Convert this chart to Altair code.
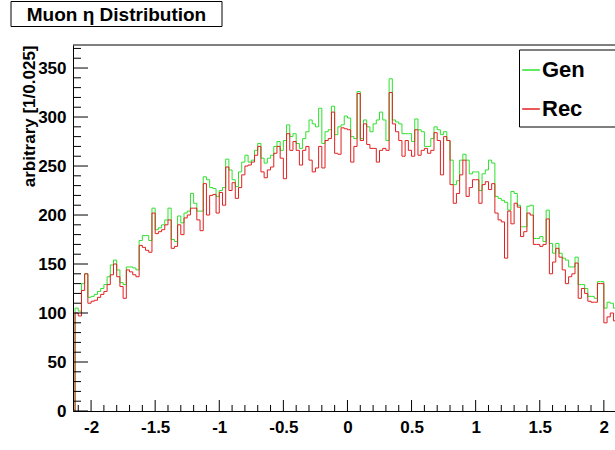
import altair as alt
import numpy as np
import pandas as pd

# ---------------- data ----------------
TITLE = "Muon η Distribution"
Y_TITLE = "arbitrary [1/0.025]"
SERIES = ["Gen", "Rec"]
BIN_WIDTH = 0.025
FIRST_EDGE = -2.15  # first (empty) bin starts here

gen_counts = [
    0,
    105, 102, 130, 140, 116, 117, 119, 122, 125, 129,
    137, 149, 154, 144, 131, 129, 147, 147, 146, 144,
    174, 179, 179, 174, 207, 185, 187, 190, 195, 207,
    175, 173, 199, 192, 202, 204, 222, 212, 204, 204,
    239, 236, 228, 227, 219, 225, 228, 257, 246, 236,
    229, 244, 254, 261, 254, 256, 266, 273, 258, 253,
    258, 261, 270, 275, 266, 276, 292, 280, 283, 273,
    268, 278, 285, 297, 293, 290, 309, 273, 285, 287,
    311, 282, 290, 292, 301, 299, 280, 278, 326, 278,
    297, 290, 285, 293, 297, 305, 297, 276, 339, 297,
    295, 293, 283, 283, 283, 275, 298, 287, 285, 270,
    270, 278, 290, 287, 282, 285, 276, 256, 231, 235,
    256, 262, 256, 242, 244, 244, 225, 242, 246, 256,
    253, 219, 217, 215, 213, 205, 224, 222, 210, 188,
    188, 209, 210, 176, 176, 178, 173, 205, 171, 161,
    171, 161, 156, 154, 147, 147, 157, 129, 129, 125,
    117, 117, 115, 132, 132, 105, 111, 110, 105,
]
rec_counts = [
    0,
    100, 97, 123, 140, 110, 112, 113, 116, 119, 122,
    129, 139, 150, 137, 127, 115, 144, 142, 139, 137,
    169, 167, 164, 162, 202, 181, 183, 185, 190, 195,
    166, 168, 190, 180, 197, 200, 207, 207, 195, 184,
    232, 200, 220, 221, 202, 223, 210, 249, 225, 233,
    217, 228, 241, 250, 251, 254, 261, 270, 244, 238,
    246, 249, 263, 270, 258, 237, 283, 266, 275, 266,
    251, 266, 270, 256, 244, 248, 270, 248, 276, 278,
    305, 263, 262, 289, 288, 287, 254, 270, 324, 276,
    293, 272, 268, 268, 254, 266, 268, 266, 325, 293,
    285, 276, 260, 276, 266, 260, 287, 261, 266, 268,
    263, 266, 284, 276, 241, 280, 276, 231, 212, 222,
    241, 256, 219, 228, 236, 236, 212, 231, 234, 226,
    232, 202, 195, 193, 156, 204, 191, 212, 208, 178,
    183, 202, 200, 170, 170, 168, 170, 196, 140, 152,
    166, 157, 144, 130, 137, 140, 151, 115, 125, 120,
    112, 111, 111, 130, 130, 90, 96, 100, 92,
]

x_tick_labels = [-2, -1.5, -1, -0.5, 0, 0.5, 1, 1.5, 2]
y_tick_labels = [0, 50, 100, 150, 200, 250, 300, 350]

X_DOMAIN = [-2.141, 2.087]
Y_DOMAIN = [0, 373.5]

# ---------------- tables ----------------
rows = []
for name, counts in zip(SERIES, (gen_counts, rec_counts)):
    for i, c in enumerate(counts):
        rows.append({"eta": round(FIRST_EDGE + i * BIN_WIDTH, 4), "count": c, "series": name})
    rows.append({"eta": round(FIRST_EDGE + len(counts) * BIN_WIDTH, 4),
                 "count": counts[-1], "series": name})
hist = pd.DataFrame(rows)

x_minor = [float(v) for v in np.round(np.arange(-21, 21) * 0.1, 2)
           if X_DOMAIN[0] <= v <= X_DOMAIN[1] and v not in x_tick_labels]
y_minor = [v for v in range(0, 371, 10) if v not in y_tick_labels]

FONT = "Liberation Sans"
GREEN = "#2ee22e"
RED = "#e02020"
W, H = 542, 366

xscale = alt.Scale(domain=X_DOMAIN, nice=False, zero=False)
yscale = alt.Scale(domain=Y_DOMAIN, nice=False, zero=False)

xaxis = alt.Axis(values=x_tick_labels, labelExpr="toString(datum.value)", ticks=False,
                 grid=False, domain=True, domainColor="black", labelFont=FONT,
                 labelFontWeight="bold", labelFontSize=17, labelColor="black",
                 labelPadding=8, title=None, labelFlush=False, labelOverlap=False)
yaxis = alt.Axis(values=y_tick_labels, ticks=False, grid=False, domain=True,
                 domainColor="black", labelFont=FONT, labelFontWeight="bold",
                 labelFontSize=17, labelColor="black", labelPadding=7,
                 labelFlush=False, labelOverlap=False,
                 title=Y_TITLE, titleFont=FONT, titleFontSize=17, titleFontWeight="bold",
                 titleColor="black", titleAngle=-90, titleAlign="right",
                 titleBaseline="middle", titleX=-44, titleY=0)

color = alt.Color("series:N",
                  scale=alt.Scale(domain=SERIES, range=[GREEN, RED]),
                  legend=alt.Legend(title=None, orient="none", legendX=447, legendY=14,
                                    symbolType="stroke", symbolSize=310,
                                    symbolStrokeWidth=1.5, labelFontSize=22,
                                    labelFont=FONT, labelFontWeight="bold",
                                    labelColor="black", rowPadding=17, labelOffset=0,
                                    padding=0))

base = alt.Chart(hist)
gen_line = base.transform_filter(alt.datum.series == "Gen").mark_line(
    interpolate="step-after", strokeWidth=1, clip=True).encode(
    x=alt.X("eta:Q", scale=xscale, axis=xaxis),
    y=alt.Y("count:Q", scale=yscale, axis=yaxis),
    color=color)
rec_line = base.transform_filter(alt.datum.series == "Rec").mark_line(
    interpolate="step-after", strokeWidth=1, clip=True).encode(
    x=alt.X("eta:Q", scale=xscale, axis=xaxis),
    y=alt.Y("count:Q", scale=yscale, axis=yaxis),
    color=color)

xmaj = alt.Chart(pd.DataFrame({"eta": x_tick_labels})).mark_rule(color="black").encode(
    x=alt.X("eta:Q", scale=xscale, axis=xaxis), y=alt.value(H), y2=alt.value(H - 11))
xmin = alt.Chart(pd.DataFrame({"eta": x_minor})).mark_rule(color="black").encode(
    x=alt.X("eta:Q", scale=xscale, axis=xaxis), y=alt.value(H), y2=alt.value(H - 6))
ymaj = alt.Chart(pd.DataFrame({"count": y_tick_labels})).mark_rule(color="black").encode(
    y=alt.Y("count:Q", scale=yscale, axis=yaxis), x=alt.value(0), x2=alt.value(15))
ymin = alt.Chart(pd.DataFrame({"count": y_minor})).mark_rule(color="black").encode(
    y=alt.Y("count:Q", scale=yscale, axis=yaxis), x=alt.value(0), x2=alt.value(8))

deco = alt.Chart(pd.DataFrame({"label": [TITLE]}))
top_line = deco.mark_rule(color="black").encode(
    x=alt.value(0), x2=alt.value(W), y=alt.value(0))
title_box = deco.mark_rect(fill="white", stroke="black", strokeWidth=1).encode(
    x=alt.value(-62), x2=alt.value(149), y=alt.value(-43.5), y2=alt.value(-18.5))
title_text = deco.mark_text(font=FONT, fontSize=19, fontWeight="bold", color="black",
                            align="center", baseline="middle").encode(
    x=alt.value(43.5), y=alt.value(-30.5), text="label:N")
legend_box = deco.mark_rect(fill="white", stroke="black", strokeWidth=1).encode(
    x=alt.value(446.5), x2=alt.value(580), y=alt.value(5), y2=alt.value(82))

chart = alt.layer(
    gen_line, rec_line, title_box, title_text, legend_box,
    xmaj, xmin, ymaj, ymin, top_line
).properties(
    width=W, height=H,
    autosize=alt.AutoSizeParams(type="none"),
    padding={"left": 73, "top": 45, "right": 0, "bottom": 39},
    background="white",
).configure_view(stroke=None)

chart.save("out.html", embed_options={"renderer": "svg", "actions": False})
